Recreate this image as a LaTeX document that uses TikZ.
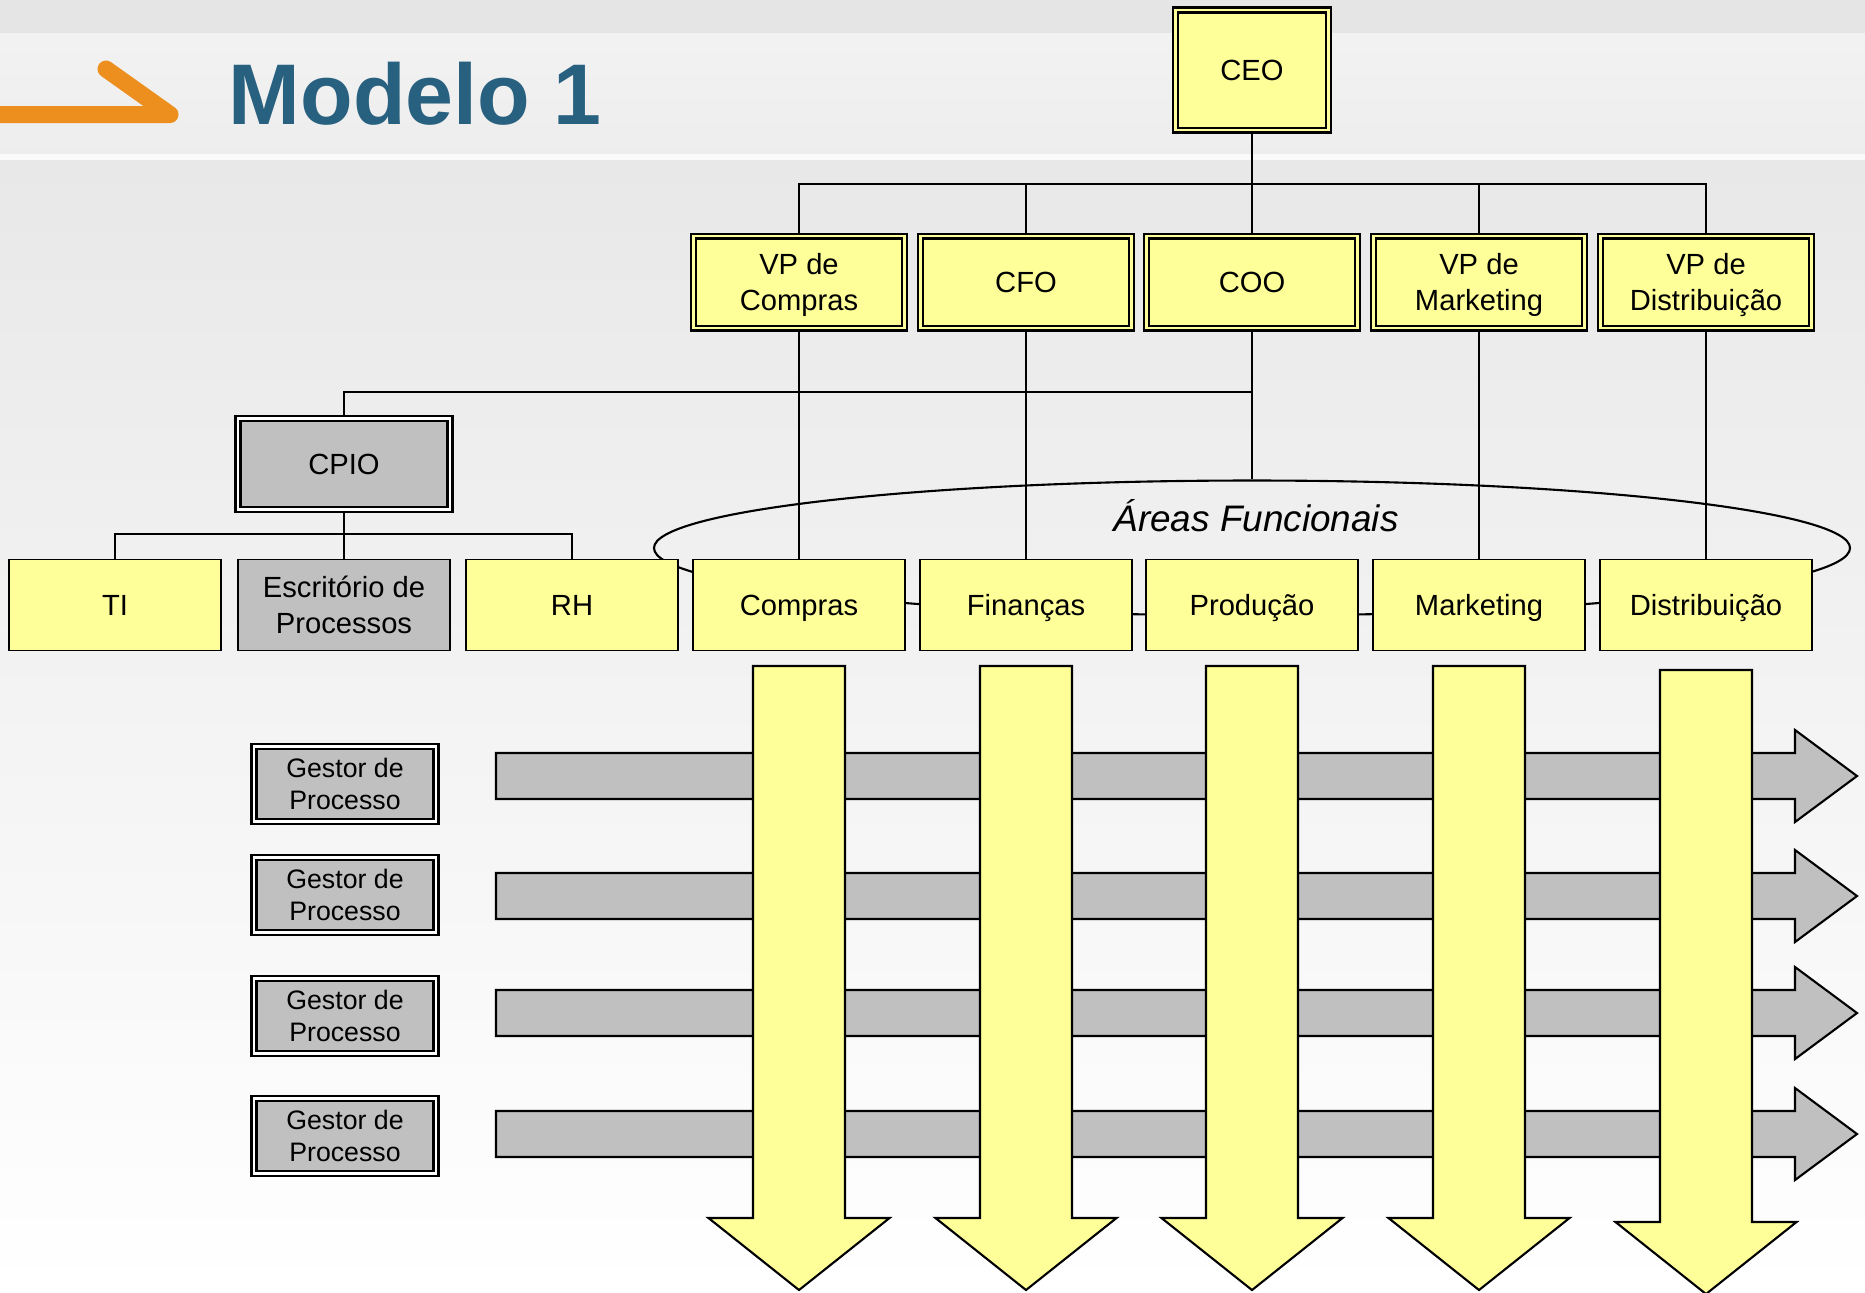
\documentclass[tikz,border=0pt]{standalone}
\usepackage{fontspec}
\setmainfont{Liberation Sans}
\usetikzlibrary{shapes.geometric,calc}

\definecolor{boxyellow}{HTML}{FFFF99}
\definecolor{boxgrey}{HTML}{C0C0C0}
\definecolor{titleblue}{HTML}{28607F}
\definecolor{arroworange}{HTML}{EC8F1E}

\tikzset{
  plainbox/.style={draw, line width=0.5pt, minimum width=2.12cm, minimum height=0.91cm,
    align=center, inner sep=1pt, font=\fontsize{8.3}{10.2}\selectfont},
  unit/.style={plainbox, fill=boxyellow, text depth=-0.9pt},
  unitgrey/.style={unit, fill=boxgrey},
  chief/.style={unit, line width=0.6pt, double=boxyellow, double distance=0.8pt,
    minimum width=2.11cm, minimum height=0.92cm},
  chiefgrey/.style={chief, fill=boxgrey, double=white},
  gestor/.style={plainbox, fill=boxgrey, line width=0.6pt, double=white, double distance=0.8pt,
    minimum width=1.82cm, minimum height=0.75cm, font=\fontsize{7.6}{9.1}\selectfont},
  link/.style={line width=0.6pt},
  flow/.style={draw, line width=0.6pt, fill=boxgrey},
  area/.style={draw, line width=0.6pt, fill=boxyellow}
}

\begin{document}
\begin{tikzpicture}
  \useasboundingbox (0,0) rectangle (18.65,-12.92);
  % background and title bar
  \fill[black!10] (0,0) rectangle (18.65,-0.33);
  \shade[top color=black!5, bottom color=black!7] (0,-0.33) rectangle (18.65,-1.54);
  \fill[black!2] (0,-1.54) rectangle (18.65,-1.60);
  \shade[top color=black!9, bottom color=white] (0,-1.60) rectangle (18.65,-12.92);
  \draw[arroworange, line width=0.17cm, line cap=round, line join=round] (-0.3,-1.145) -- (1.70,-1.145) -- (1.06,-0.69);
  \node (title) [anchor=base west, inner sep=0, text=titleblue, font=\fontsize{24.5}{30}\selectfont\bfseries] at (2.28,-1.24) {Modelo 1};

  % org chart
  \node (ceo) [chief, minimum width=1.53cm, minimum height=1.20cm] at (12.52,-0.70) {CEO};
  \node (vpc) [chief] at (7.99,-2.82) {VP de\\Compras};
  \node (cfo) [chief] at (10.26,-2.82) {CFO};
  \node (coo) [chief] at (12.52,-2.82) {COO};
  \node (vpm) [chief] at (14.79,-2.82) {VP de\\Marketing};
  \node (vpd) [chief] at (17.06,-2.82) {VP de\\Distribuição};
  \node (cpio) [chiefgrey, minimum width=2.12cm, minimum height=0.91cm] at (3.44,-4.64) {CPIO};

  \node (areas) [ellipse, draw, line width=0.6pt, inner sep=0, minimum width=11.96cm, minimum height=1.35cm] at (12.52,-5.48) {};
  \node (areastxt) [anchor=base, font=\fontsize{10.5}{12}\selectfont\itshape] at (12.56,-5.31) {Áreas Funcionais};

  \node (ti) [unit] at (1.15,-6.05) {TI};
  \node (escr) [unitgrey] at (3.44,-6.05) {Escritório de\\Processos};
  \node (rh) [unit] at (5.72,-6.05) {RH};
  \node (compras) [unit] at (7.99,-6.05) {Compras};
  \node (financas) [unit] at (10.26,-6.05) {Finanças};
  \node (producao) [unit] at (12.52,-6.05) {Produção};
  \node (marketing) [unit] at (14.79,-6.05) {Marketing};
  \node (distribuicao) [unit] at (17.06,-6.05) {Distribuição};

  \coordinate (bus) at (12.52,-1.84);
  \coordinate (cpiojoin) at (12.52,-3.92);
  \coordinate (cpiobus) at (3.44,-5.34);
  \draw[link, line width=0.8pt] (ceo) -- (coo);
  \foreach \v in {vpc,cfo,vpm,vpd}
    \draw[link] (\v.north) |- (bus);
  \draw[link] (vpc) -- (compras);
  \draw[link] (cfo) -- (financas);
  \draw[link] (vpm) -- (marketing);
  \draw[link] (vpd) -- (distribuicao);
  \draw[link] (coo) -- (areas.north);
  \draw[link] (cpiojoin) -| (cpio);
  \draw[link] (cpio) -- (escr);
  \draw[link] (ti) |- (cpiobus) -| (rh);

  % process managers and flows
  \foreach \i/\g/\a in {1/7.84/7.76, 2/8.95/8.96, 3/10.16/10.13, 4/11.36/11.34} {
    \node (gestor\i) [gestor] at (3.45,-\g) {Gestor de\\Processo};
    \draw[flow] (4.96,{-\a+0.23}) -- (17.95,{-\a+0.23}) -- ++(0,0.23) -- (18.57,-\a)
      -- (17.95,{-\a-0.46}) -- ++(0,0.23) -- (4.96,{-\a-0.23}) -- cycle;
  }
  \foreach \x/\d in {7.99/0, 10.26/0, 12.52/0, 14.79/0, 17.06/0.04}
    \draw[area] ({\x-0.46},{-6.66-\d}) -- ++(0.92,0) -- ++(0,-5.52) -- ++(0.445,0)
      -- ++(-0.905,-0.72) -- ++(-0.905,0.72) -- ++(0.445,0) -- cycle;
\end{tikzpicture}
\end{document}
